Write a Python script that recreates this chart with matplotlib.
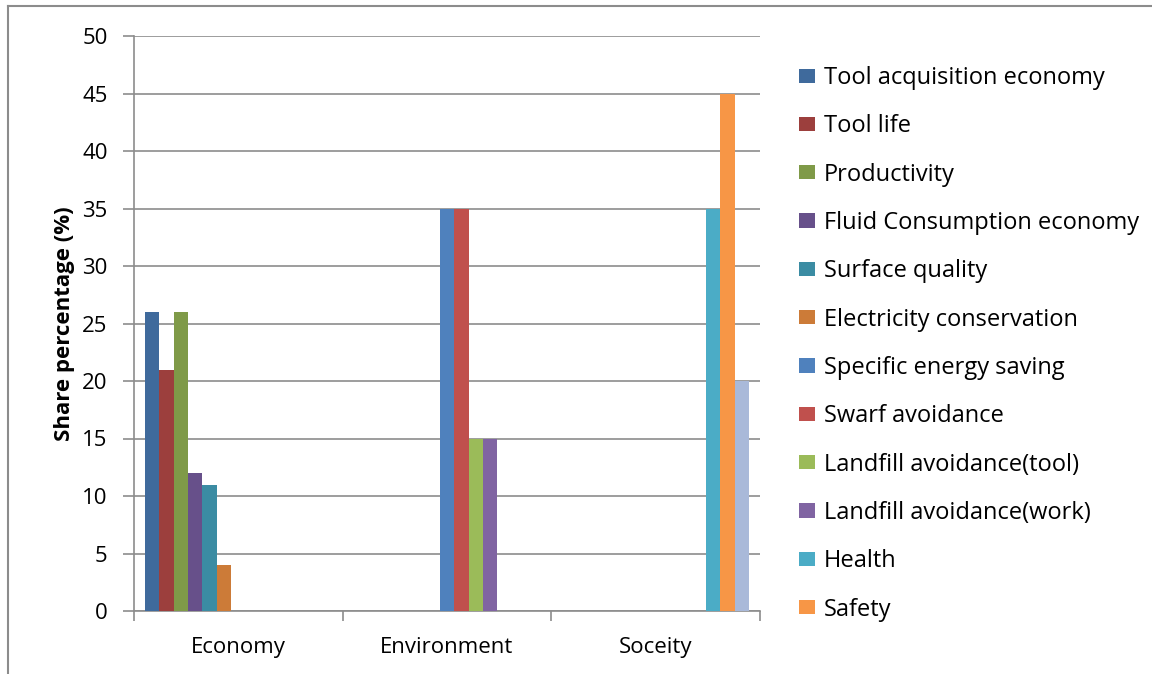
import matplotlib
matplotlib.use("Agg")
import matplotlib.pyplot as plt
import numpy as np
from matplotlib.patches import Patch
from matplotlib.lines import Line2D

plt.rcParams['font.family'] = ['Open Sans', 'DejaVu Sans']

categories = ["Economy", "Environment", "Soceity"]
series_names = [
    "Tool acquisition economy", "Tool life", "Productivity",
    "Fluid Consumption economy", "Surface quality", "Electricity conservation",
    "Specific energy saving", "Swarf avoidance", "Landfill avoidance(tool)",
    "Landfill avoidance(work)", "Health", "Safety", "Other",
]
# values per series for [Economy, Environment, Soceity]
tool_acq = [26, 0, 0]
tool_life = [21, 0, 0]
productivity = [26, 0, 0]
fluid = [12, 0, 0]
surface = [11, 0, 0]
electricity = [4, 0, 0]
energy = [0, 35, 0]
swarf = [0, 35, 0]
landfill_tool = [0, 15, 0]
landfill_work = [0, 15, 0]
health = [0, 0, 35]
safety = [0, 0, 45]
other = [0, 0, 20]
values = [tool_acq, tool_life, productivity, fluid, surface, electricity,
          energy, swarf, landfill_tool, landfill_work, health, safety, other]
colors = ["#3F6A9C", "#9C3F3D", "#7F9A48", "#67508A", "#3B8CA3", "#CC7B38",
          "#4F81BD", "#C0504D", "#9BBB59", "#8064A2", "#4BACC6", "#F79646", "#A9B9D9"]
yticks = [0, 5, 10, 15, 20, 25, 30, 35, 40, 45, 50]

W, H = 1152, 674
fig = plt.figure(figsize=(W/100, H/100), dpi=100)
ax = fig.add_axes([134/W, 1-611/H, (760-134)/W, (611-36)/H])

n = len(values)
bw = 1.0/(n + 1.5)
x = np.arange(len(categories))
for i, (vals, c) in enumerate(zip(values, colors)):
    pos = x - 0.5 + 0.75*bw + (i + 0.5)*bw
    ax.bar(pos, vals, width=bw, color=c, linewidth=0, zorder=3)

grey = "#8C8C8C"
ax.set_xlim(-0.5, len(categories) - 0.5)
ax.set_ylim(0, 50)
ax.set_yticks(yticks)
ax.yaxis.grid(True, color=grey, linewidth=1.2, zorder=0)
ax.set_xticks(x)
ax.set_xticklabels(categories, fontsize=16)
ax.set_xticks(np.arange(len(categories)+1) - 0.5, minor=True)
ax.tick_params(axis='x', which='major', length=0, pad=19)
ax.tick_params(axis='x', which='minor', length=7, color=grey, width=1.2)
ax.tick_params(axis='y', length=8, color=grey, width=1.2, labelsize=16, pad=11)
for s in ["top", "right"]:
    ax.spines[s].set_visible(False)
for s in ["left", "bottom"]:
    ax.spines[s].set_color(grey)
    ax.spines[s].set_linewidth(1.2)
ax.set_ylabel("Share percentage (%)", fontsize=16, fontweight='bold', labelpad=5)

handles = [Patch(facecolor=colors[i], edgecolor='none') for i in range(12)]
fig.legend(handles, series_names[:12], loc='upper left',
           bbox_to_anchor=(799/W, 1-66/H), frameon=False, fontsize=17,
           handlelength=0.68, handleheight=0.55, handletextpad=0.36,
           labelspacing=1.03, borderpad=0, borderaxespad=0)

# outer frame (partially visible)
fig.add_artist(Line2D([8/W, 1], [1-6/H, 1-6/H], color=grey, linewidth=1.5))
fig.add_artist(Line2D([8/W, 8/W], [0, 1-6/H], color=grey, linewidth=1.5))

fig.savefig("out.png", dpi=100)
